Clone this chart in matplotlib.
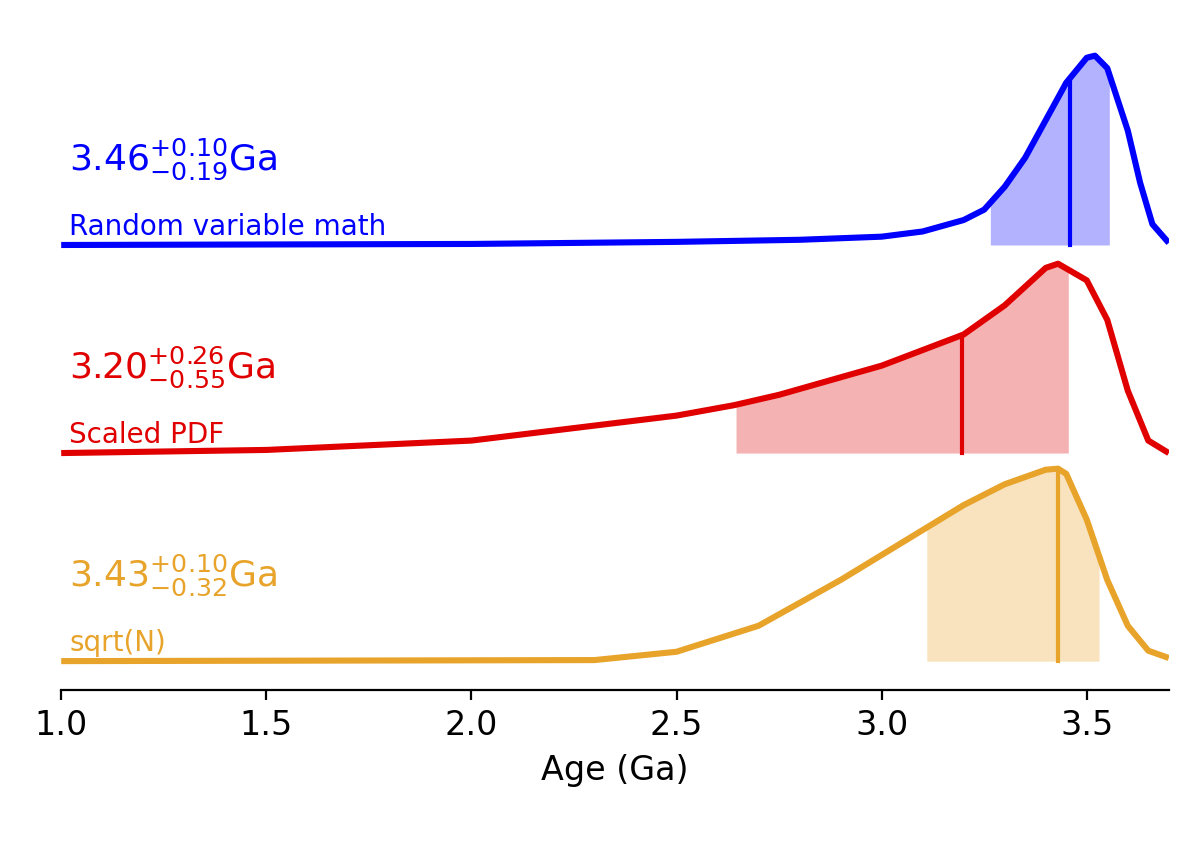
import numpy as np
import matplotlib
matplotlib.use("Agg")
import matplotlib.pyplot as plt

# Curves (height in units of the vertical offset)
blue_x = [1.0, 2.0, 2.5, 2.8, 3.0, 3.1, 3.2, 3.25, 3.3, 3.35, 3.4, 3.45, 3.5, 3.52, 3.55, 3.6, 3.63, 3.66, 3.7]
blue_y = [0.0, 0.005, 0.015, 0.025, 0.04, 0.065, 0.12, 0.17, 0.28, 0.42, 0.6, 0.78, 0.9, 0.91, 0.85, 0.55, 0.3, 0.1, 0.01]
red_x = [1.0, 1.5, 2.0, 2.5, 2.64, 2.75, 3.0, 3.2, 3.3, 3.4, 3.43, 3.5, 3.55, 3.6, 3.65, 3.7]
red_y = [0.0, 0.015, 0.06, 0.18, 0.23, 0.28, 0.42, 0.57, 0.71, 0.89, 0.91, 0.83, 0.64, 0.3, 0.06, 0.0]
yel_x = [1.0, 2.3, 2.5, 2.7, 2.9, 3.0, 3.1, 3.2, 3.3, 3.4, 3.43, 3.45, 3.5, 3.55, 3.6, 3.65, 3.7]
yel_y = [0.0, 0.005, 0.045, 0.17, 0.39, 0.51, 0.63, 0.75, 0.85, 0.92, 0.925, 0.9, 0.68, 0.39, 0.17, 0.05, 0.015]

series = [
    # x, y, offset, colour, lo, median, hi, value, +err, -err, label
    (blue_x, blue_y, 2, "#0000ff", 3.265, 3.46, 3.555, "3.46", "0.10", "0.19", "Random variable math"),
    (red_x, red_y, 1, "#e00000", 2.645, 3.195, 3.455, "3.20", "0.26", "0.55", "Scaled PDF"),
    (yel_x, yel_y, 0, "#e8a32a", 3.11, 3.43, 3.53, "3.43", "0.10", "0.32", "sqrt(N)"),
]

fig = plt.figure(figsize=(6, 4.205), dpi=200)
ax = fig.add_axes([0.051, 0.1795, 0.923, 0.785])

for xs, ys, off, c, lo, med, hi, val, up, dn, lab in series:
    xs = np.asarray(xs); ys = np.asarray(ys) + off
    grid = np.linspace(lo, hi, 200)
    ax.fill_between(grid, off, np.interp(grid, xs, ys), color=c, alpha=0.3, linewidth=0)
    ax.plot(xs, ys, color=c, linewidth=2.2, solid_capstyle="butt")
    ax.plot([med, med], [off, np.interp(med, xs, ys)], color=c, linewidth=1.5)
    ax.text(1.02, off + 0.36, rf"${val}^{{+{up}}}_{{-{dn}}}$Ga", color=c, fontsize=13)
    ax.text(1.02, off + 0.05, lab, color=c, fontsize=10)

ax.set_xlim(1.0, 3.7)
ax.set_ylim(-0.139, 3.034)
ax.set_yticks([])
for side in ("top", "right", "left"):
    ax.spines[side].set_visible(False)
ax.set_xticks([1.0, 1.5, 2.0, 2.5, 3.0, 3.5])
ax.tick_params(axis="x", labelsize=12)
ax.set_xlabel("Age (Ga)", fontsize=12)
fig.savefig("out.png", dpi=200, facecolor="white")
